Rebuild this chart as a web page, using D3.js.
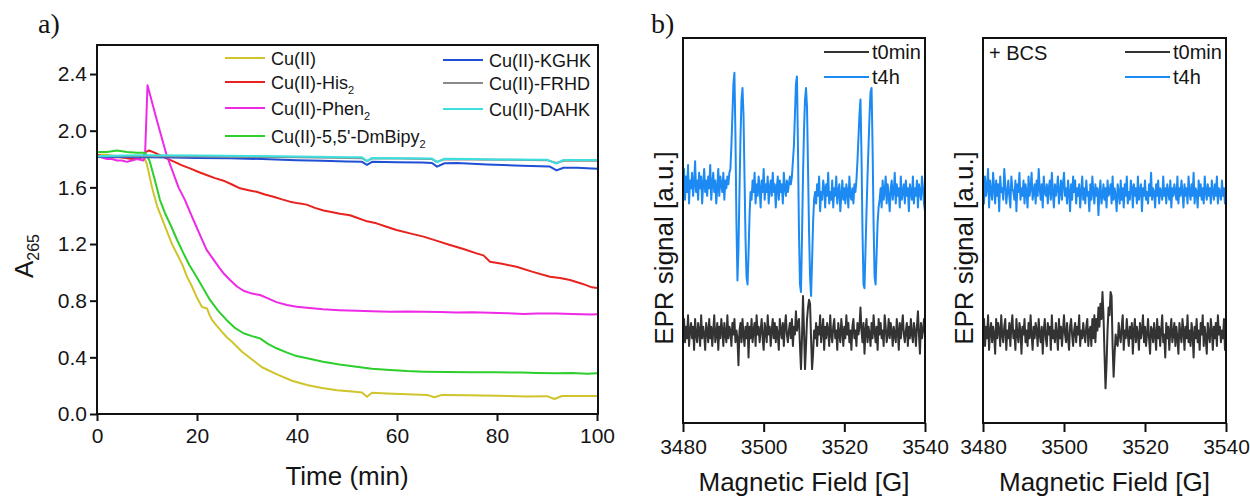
<!DOCTYPE html>
<html><head><meta charset="utf-8">
<script src="https://cdn.jsdelivr.net/npm/d3@7"></script>
<style>
body{margin:0;background:#fff}
svg{display:block}
text{font-family:"Liberation Sans",Arial,sans-serif;fill:#151515}
</style>
</head><body>
<svg id="c" width="1250" height="501"></svg>
<script>
// ---------- Panel a data: [time (min), A265] ----------
const cuII = [[0,1.83],[2,1.83],[4,1.82],[6,1.82],[8,1.82],[9.4,1.82],[10,1.76],[11,1.60],[12,1.47],[13,1.38],[14,1.29],[15,1.20],[16,1.13],[17,1.06],[18,0.97],[19,0.90],[20,0.82],[21,0.755],[22,0.745],[22.5,0.70],[23,0.665],[24,0.62],[25,0.58],[26,0.54],[27,0.51],[28,0.475],[29,0.44],[31,0.385],[33,0.33],[36,0.28],[39,0.235],[42,0.205],[45,0.183],[48,0.168],[51,0.158],[53,0.152],[54,0.122],[55,0.15],[58,0.145],[62,0.14],[66,0.135],[67.5,0.118],[69,0.135],[74,0.132],[80,0.128],[86,0.124],[90,0.126],[91.5,0.106],[93,0.127],[100,0.127]];
const cuHis = [[0,1.83],[1,1.82],[2,1.82],[3,1.81],[4,1.815],[5,1.81],[6,1.805],[7,1.80],[8,1.80],[9,1.81],[9.8,1.85],[10.4,1.86],[11.5,1.845],[12.7,1.825],[13.9,1.805],[15.5,1.78],[17,1.755],[18.6,1.734],[20.2,1.71],[21.9,1.687],[23.6,1.665],[25.3,1.647],[27,1.62],[28.6,1.593],[30.3,1.58],[31.9,1.569],[33.6,1.55],[35.3,1.534],[37,1.515],[38.6,1.499],[40.3,1.487],[41.9,1.478],[43.6,1.455],[45.3,1.437],[46.6,1.428],[48.6,1.414],[50.6,1.403],[52,1.385],[54,1.36],[55.9,1.346],[57.9,1.322],[59.9,1.299],[62.6,1.275],[65.3,1.252],[68,1.222],[70.6,1.193],[73.3,1.165],[75.9,1.134],[77.3,1.12],[78.6,1.075],[81,1.06],[83.9,1.04],[87,1.005],[90.6,0.969],[92.6,0.96],[94.6,0.946],[97,0.92],[99,0.894],[100,0.89]];
const cuPhen = [[0,1.83],[1,1.81],[2,1.80],[3,1.80],[4,1.79],[5,1.79],[6,1.78],[7,1.79],[8,1.80],[9.3,1.79],[9.6,1.82],[10.1,2.32],[12,2.07],[13.9,1.83],[16.3,1.60],[17.6,1.51],[18.8,1.41],[19.9,1.32],[20.9,1.24],[21.9,1.16],[23.1,1.10],[24.3,1.04],[25.4,0.99],[26.6,0.946],[28,0.90],[29.3,0.87],[31,0.85],[32.6,0.84],[34.3,0.815],[35.9,0.79],[38,0.77],[39.9,0.757],[42.5,0.748],[45.2,0.739],[48.5,0.733],[51.9,0.729],[55,0.726],[58.6,0.722],[62,0.724],[65.3,0.722],[68.5,0.72],[71.9,0.717],[75,0.718],[78.6,0.715],[82,0.712],[85.3,0.706],[88,0.71],[91.9,0.71],[95,0.706],[98.9,0.703],[100,0.705]];
const cuBipy = [[0,1.85],[2,1.85],[4,1.86],[6,1.85],[8,1.845],[9.6,1.845],[10.5,1.79],[11.5,1.66],[12.6,1.51],[13.7,1.41],[14.9,1.32],[16,1.23],[17.3,1.134],[18.5,1.05],[19.9,0.969],[21.2,0.89],[22.6,0.805],[24.2,0.73],[25.9,0.664],[27.5,0.61],[29.3,0.57],[31,0.55],[32.6,0.534],[34.2,0.495],[35.9,0.464],[37.9,0.435],[39.9,0.409],[42.5,0.39],[45.2,0.369],[48.5,0.35],[51.9,0.334],[55,0.32],[58.6,0.31],[62,0.303],[65.3,0.299],[70,0.296],[75,0.294],[80,0.294],[85,0.293],[88,0.29],[91.9,0.287],[95,0.29],[98,0.284],[100,0.288]];
const cuKGHK = [[0,1.815],[5,1.815],[10,1.812],[15,1.81],[20,1.808],[26.6,1.805],[33,1.80],[39.9,1.792],[45,1.787],[50,1.783],[53,1.78],[54,1.758],[55,1.78],[60,1.778],[65,1.776],[67,1.772],[68,1.746],[69.5,1.77],[72,1.772],[78,1.762],[85,1.752],[90.5,1.748],[91.9,1.72],[93.3,1.738],[96,1.738],[100,1.732]];
const cuFRHD = [[0,1.82],[10,1.82],[20,1.818],[30,1.815],[40,1.812],[50,1.808],[53,1.806],[54,1.785],[55,1.804],[60,1.803],[67,1.80],[68,1.78],[69.5,1.798],[80,1.795],[90,1.792],[91.9,1.772],[93.3,1.788],[100,1.788]];
const cuDAHK = [[0,1.82],[5,1.825],[10,1.826],[20,1.824],[30,1.822],[40,1.818],[50,1.813],[53,1.812],[54,1.785],[55,1.808],[60,1.806],[67,1.803],[68,1.778],[69.5,1.802],[75,1.80],[80,1.797],[90,1.795],[91.9,1.768],[93.3,1.793],[100,1.793]];

const seriesNames = [["Cu(II)",""],["Cu(II)-His","2"],["Cu(II)-Phen","2"],["Cu(II)-5,5'-DmBipy","2"],["Cu(II)-KGHK",""],["Cu(II)-FRHD",""],["Cu(II)-DAHK",""]];
const seriesData = [cuII, cuHis, cuPhen, cuBipy, cuKGHK, cuFRHD, cuDAHK];
const seriesColors = ["#d0c42c","#e8231f","#ee2ae6","#2ccf2c","#1f4fd4","#8a8a8a","#3ddede"];
const xTicksA = [0,20,40,60,80,100];
const yTicksA = [0,0.4,0.8,1.2,1.6,2.0,2.4];

// ---------- Panel b data: EPR signal (a.u.), field 3480..3540 G, step 0.25 G ----------
const fieldStart = 3480, fieldStep = 0.25;
const eprBlueNoBCS = [62,66,58,64,60,67,57,63,61,65,59,62,68,60,63,58,65,61,64,57,62,66,60,63,59,64,61,67,58,62,65,60,63,57,61,66,59,64,62,60,65,58,63,61,64,62,65,
66,72,80,88,91,75,52,37,45,60,74,84,87,80,64,48,38,36,44,54,60,
58,63,60,65,57,62,59,64,61,56,63,60,66,58,62,60,64,57,61,63,59,65,60,62,56,61,64,58,63,60,62,57,65,61,59,63,60,62,64,62,
64,68,72,80,88,90,72,50,36,34,48,64,76,84,87,82,66,50,38,33,42,52,58,60,
57,62,59,64,55,60,58,63,61,56,62,59,65,57,60,58,63,56,61,59,64,57,60,62,55,59,63,58,61,57,62,60,56,64,59,58,61,57,62,60,
63,68,74,80,84,70,50,36,35,45,55,64,72,80,86,87,72,52,38,36,44,52,56,58,
61,56,63,58,60,64,57,62,59,55,61,63,58,60,65,57,62,59,61,56,64,58,60,62,57,63,59,61,55,62,60,58,64,57,61,59,63,56,62,60,58,64,61,57,55];
const eprBlackNoBCS = [24,27,21,25,22,28,20,24,26,22,25,19,27,23,21,26,24,20,28,22,25,23,19,26,24,21,27,22,25,20,24,28,21,23,26,19,25,22,27,24,20,26,23,21,28,22,25,24,20,26,23,27,21,24,22,
15,24,26,21,27,23,20,25,22,26,17,
25,22,27,21,24,26,20,28,23,25,21,24,27,22,19,26,24,21,28,23,25,20,24,27,22,26,21,25,23,19,27,24,22,26,20,25,28,23,21,24,26,22,27,20,25,23,29,24,26,
27,20,14,22,33,24,14,20,27,30,32,31,22,14,18,24,
22,26,20,25,23,28,21,24,27,19,25,22,26,24,20,28,23,21,25,27,22,24,19,26,23,21,27,24,20,25,22,28,23,26,21,24,19,25,27,22,24,20,26,23,25,
30,24,21,26,18,
24,27,21,25,23,20,26,22,28,24,21,25,19,27,23,26,22,24,20,28,25,21,23,27,22,26,24,20,25,23,21,27,24,19,26,22,25,28,23,21,24,26,20,25,22,27,23,21,26,24,20,25,29,23,18,26,22,24,27,23];
const eprBlueBCS = [62,57,64,59,61,66,56,63,60,58,65,61,57,63,59,62,55,64,60,61,58,66,62,57,60,63,59,56,64,61,60,58,63,55,62,60,65,58,61,59,
63,57,62,60,56,64,59,61,65,58,60,62,57,63,59,66,61,58,62,56,64,60,59,62,57,61,63,58,65,60,56,62,59,61,64,57,60,63,58,62,
65,59,61,57,63,60,55,62,58,64,60,63,57,61,59,62,56,60,64,58,61,57,63,59,60,55,62,58,64,60,57,62,59,61,54,60,63,57,59,62,
58,61,56,63,59,60,62,57,64,58,61,59,55,62,60,57,63,58,61,56,62,59,64,57,60,58,63,61,56,62,59,61,57,64,58,60,62,55,61,59,
63,58,60,57,62,59,65,58,61,60,56,62,59,63,57,61,60,58,64,59,61,57,62,60,58,63,56,61,59,62,60,58,64,57,61,59,63,60,56,62,
59,61,57,64,60,58,62,59,65,57,61,60,56,63,59,62,58,61,57,64,60,58,62,59,61,57,63,60,58,62,59,64,57,61,60,58,63,59,61,57,60];
const eprBlackBCS = [24,27,20,25,22,28,19,24,26,21,25,23,18,27,22,26,24,20,28,23,21,25,27,19,24,22,26,20,25,28,22,24,19,27,23,21,26,24,18,25,
23,27,21,24,20,26,22,28,23,19,25,22,26,24,20,27,23,21,25,18,24,27,22,20,26,23,25,19,28,22,24,21,26,23,19,27,22,25,20,24,
28,23,21,26,22,19,25,27,23,20,24,26,21,25,23,28,20,24,22,26,23,21,25,27,20,24,
25,20,27,22,28,21,27,24,30,25,31,27,34,28,18,9,15,24,30,28,34,33,20,12,18,23,21,
20,26,23,21,25,28,19,24,22,27,23,20,25,22,26,18,24,27,21,25,23,19,26,22,24,28,21,25,20,23,27,22,18,25,24,21,26,23,19,27,
22,25,20,24,28,21,23,17,26,22,25,19,24,27,21,23,26,20,25,22,18,26,23,21,27,24,19,25,22,28,21,24,20,26,23,17,25,22,27,21,
24,19,26,23,28,20,25,22,18,26,23,21,27,24,19,25,22,26,20,28,23,25,21,24,22,27,19,24];
const eprTicks = [3480,3500,3520,3540];
const eprLegend = ["t0min","t4h"];
const eprColors = ["#333333","#1c8af2"];

// ---------- drawing ----------
const svg = d3.select("#c");
svg.append("rect").attr("width",1250).attr("height",501).attr("fill","#fff");

// Panel a
const xA = d3.scaleLinear().domain([0,100]).range([97,597]);
const yA = d3.scaleLinear().domain([0,2.6]).range([414,45.7]);
const gA = svg.append("g");

const lineA = d3.line().x(d=>xA(d[0])).y(d=>yA(d[1]));
seriesData.forEach((s,i)=>{
  gA.append("path").datum(s).attr("d",lineA).attr("fill","none")
    .attr("stroke",seriesColors[i]).attr("stroke-width",2).attr("stroke-linejoin","round");
});

const axBA = gA.append("g").attr("transform","translate(0,414)")
  .call(d3.axisBottom(xA).tickValues(xTicksA).tickSize(7).tickSizeOuter(0).tickPadding(7));
const axLA = gA.append("g").attr("transform","translate(97,0)")
  .call(d3.axisLeft(yA).tickValues(yTicksA).tickSize(7).tickSizeOuter(0).tickPadding(3).tickFormat(d3.format(".1f")));
[axBA,axLA].forEach(a=>{
  a.select(".domain").remove();
  a.selectAll(".tick line").attr("stroke","#111").attr("stroke-width",2);
  a.selectAll(".tick text").attr("font-size",21).attr("fill","#151515")
    .attr("font-family","Liberation Sans, Arial, sans-serif");
});
gA.append("rect").attr("x",97).attr("y",45).attr("width",501).attr("height",369)
  .attr("fill","none").attr("stroke","#111").attr("stroke-width",2);

// legend a
const legPos = [[225,58],[225,82],[225,108],[225,136],[443,60],[443,83],[443,109]];
seriesNames.forEach((n,i)=>{
  const [lx,ly] = legPos[i];
  gA.append("line").attr("x1",lx).attr("x2",lx+40).attr("y1",ly).attr("y2",ly)
    .attr("stroke",seriesColors[i]).attr("stroke-width",2);
  const t = gA.append("text").attr("x",lx+46).attr("y",ly+7).attr("font-size",18);
  t.append("tspan").text(n[0]);
  if(n[1]) t.append("tspan").attr("dy",5).attr("font-size",11).text(n[1]);
});

// axis titles a
gA.append("text").attr("x",347).attr("y",485).attr("text-anchor","middle").attr("font-size",26).text("Time (min)");
const yl = gA.append("text").attr("transform","translate(33,256) rotate(-90)").attr("text-anchor","middle").attr("font-size",26);
yl.append("tspan").text("A");
yl.append("tspan").attr("dy",6).attr("font-size",16).text("265");
svg.append("text").attr("x",38).attr("y",33).attr("font-size",28)
  .style("font-family","'Liberation Serif','Times New Roman',serif").text("a)");
svg.append("text").attr("x",651).attr("y",33).attr("font-size",28)
  .style("font-family","'Liberation Serif','Times New Roman',serif").text("b)");

// Panel b
function eprPanel(x0,x1,black,blue,bcs){
  const g = svg.append("g");
  const x = d3.scaleLinear().domain([3480,3540]).range([x0,x1]);
  const y = d3.scaleLinear().domain([0,100]).range([423,38]);
  const ln = d3.line().x((d,i)=>x(fieldStart+i*fieldStep)).y(d=>y(d));
  [black,blue].forEach((s,k)=>{
    g.append("path").datum(s).attr("d",ln).attr("fill","none")
      .attr("stroke",eprColors[k]).attr("stroke-width",2).attr("stroke-linejoin","round");
  });
  const ax = g.append("g").attr("transform","translate(0,423)")
    .call(d3.axisBottom(x).tickValues(eprTicks).tickSize(9).tickSizeOuter(0).tickPadding(7.5).tickFormat(d3.format("d")));
  ax.select(".domain").remove();
  ax.selectAll(".tick line").attr("stroke","#111").attr("stroke-width",2);
  ax.selectAll(".tick text").attr("font-size",21).attr("fill","#151515")
    .attr("font-family","Liberation Sans, Arial, sans-serif");
  g.append("rect").attr("x",x0).attr("y",38).attr("width",x1-x0).attr("height",385)
    .attr("fill","none").attr("stroke","#111").attr("stroke-width",2);
  // legend
  eprLegend.forEach((n,k)=>{
    const ly = 52+k*25, lx = x1-101;
    g.append("line").attr("x1",lx).attr("x2",lx+45).attr("y1",ly).attr("y2",ly)
      .attr("stroke",eprColors[k]).attr("stroke-width",2);
    g.append("text").attr("x",lx+48).attr("y",ly+7).attr("font-size",20).text(n);
  });
  if(bcs) g.append("text").attr("x",x0+6).attr("y",60).attr("font-size",20).text("+ BCS");
  g.append("text").attr("transform",`translate(${x0-10},248) rotate(-90)`).attr("text-anchor","middle")
    .attr("font-size",26).text("EPR signal [a.u.]");
  g.append("text").attr("x",(x0+x1)/2).attr("y",491).attr("text-anchor","middle")
    .attr("font-size",26).text("Magnetic Field [G]");
}
eprPanel(683,925,eprBlackNoBCS,eprBlueNoBCS,false);
eprPanel(983,1226,eprBlackBCS,eprBlueBCS,true);
</script>
</body></html>
